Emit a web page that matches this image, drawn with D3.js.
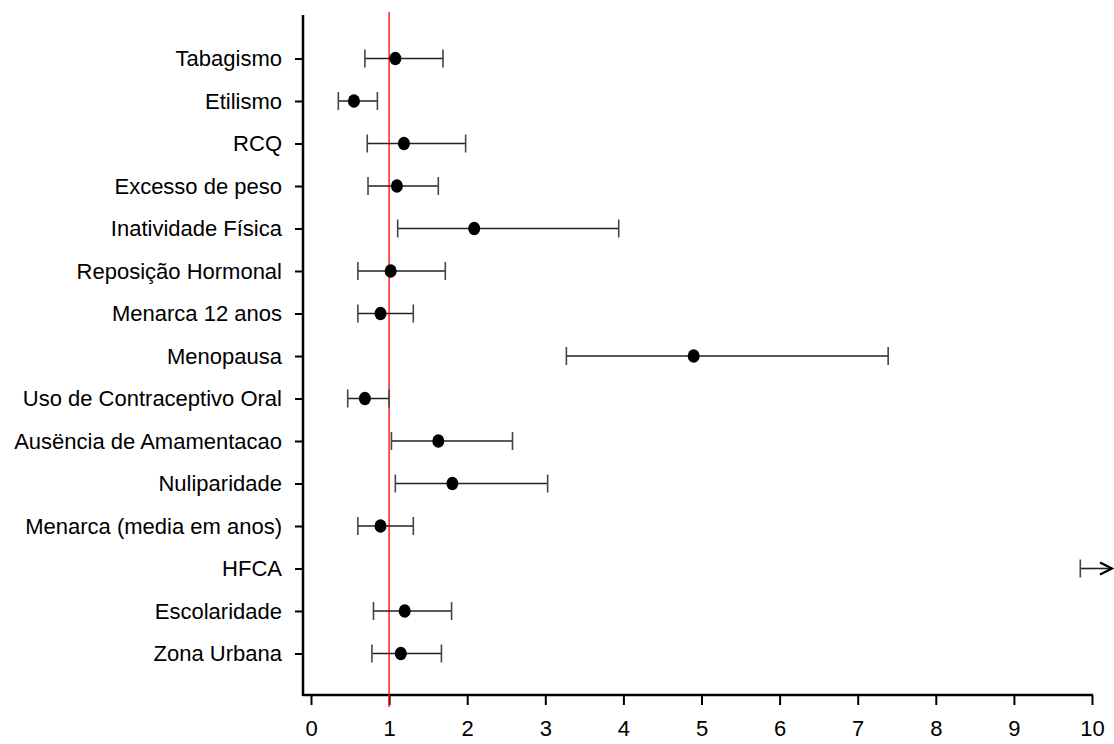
<!DOCTYPE html>
<html>
<head>
<meta charset="utf-8">
<script src="https://cdn.jsdelivr.net/npm/d3@7"></script>
<style>
  body { margin: 0; background: #fff; }
  text { font-family: "Liberation Sans", Arial, sans-serif; }
</style>
</head>
<body>
<div id="visualization"></div>
<script>
const categories = ['Tabagismo', 'Etilismo', 'RCQ', 'Excesso de peso', 'Inatividade Física',
  'Reposição Hormonal', 'Menarca 12 anos', 'Menopausa', 'Uso de Contraceptivo Oral',
  'Ausëncia de Amamentacao', 'Nuliparidade', 'Menarca (media em anos)', 'HFCA',
  'Escolaridade', 'Zona Urbana'];
const oddsRatio = [1.08, 0.55, 1.19, 1.10, 2.09, 1.02, 0.89, 4.90, 0.69, 1.63, 1.81, 0.89, null, 1.20, 1.15];
const lowerCI = [0.69, 0.35, 0.72, 0.73, 1.11, 0.60, 0.60, 3.27, 0.47, 1.03, 1.08, 0.60, 9.85, 0.80, 0.78];
const upperCI = [1.69, 0.85, 1.98, 1.63, 3.94, 1.72, 1.31, 7.39, 1.00, 2.58, 3.03, 1.31, 10.4, 1.80, 1.67];
const xTicks = [0, 1, 2, 3, 4, 5, 6, 7, 8, 9, 10];
const refValue = 1;

const width = 1114;
const height = 744;
const axisX = 303;
const axisTop = 15;
const axisBottom = 695;
const capHalf = 9;

const rows = categories.map((c, i) => ({
  name: c, or: oddsRatio[i], lo: lowerCI[i], hi: upperCI[i],
}));

const svg = d3.select('#visualization')
  .append('svg')
  .attr('width', width)
  .attr('height', height);

const xScale = d3.scaleLinear().domain([0, 10]).range([311, 1092]);
const yScale = d3.scalePoint().domain(categories).range([58.5, 653.5]);

// left axis
const yAxis = svg.append('g')
  .attr('transform', `translate(${axisX},0)`)
  .call(d3.axisLeft(yScale).tickSize(8).tickPadding(13));
yAxis.select('.domain').remove();
yAxis.append('line')
  .attr('x1', 0).attr('x2', 0)
  .attr('y1', axisTop).attr('y2', axisBottom + 1)
  .attr('stroke', '#000').attr('stroke-width', 2.5);
yAxis.selectAll('.tick line').attr('stroke', '#000').attr('stroke-width', 2);
yAxis.selectAll('.tick text')
  .attr('fill', '#000')
  .style('font-size', '22px');

// bottom axis
const xAxis = svg.append('g')
  .attr('transform', `translate(0,${axisBottom})`)
  .call(d3.axisBottom(xScale).tickValues(xTicks).tickSize(10).tickPadding(15));
xAxis.select('.domain').remove();
xAxis.append('line')
  .attr('x1', axisX).attr('x2', 1093)
  .attr('y1', 0).attr('y2', 0)
  .attr('stroke', '#000').attr('stroke-width', 2.5);
xAxis.selectAll('.tick line').attr('stroke', '#000').attr('stroke-width', 2);
xAxis.selectAll('.tick text')
  .attr('fill', '#000')
  .style('font-size', '22px');

// reference line
svg.append('line')
  .attr('x1', xScale(refValue)).attr('x2', xScale(refValue))
  .attr('y1', 12).attr('y2', axisBottom + 12)
  .attr('stroke', '#ff0000').attr('stroke-width', 1.3);

const g = svg.append('g');

// CI lines
g.selectAll('line.ci')
  .data(rows)
  .enter()
  .append('line')
  .attr('class', 'ci')
  .attr('x1', (d) => xScale(d.lo))
  .attr('x2', (d) => (d.or === null ? width - 2 : xScale(d.hi)))
  .attr('y1', (d) => yScale(d.name))
  .attr('y2', (d) => yScale(d.name))
  .attr('stroke', '#222')
  .attr('stroke-width', 1.6);

// lower caps
g.selectAll('line.lo')
  .data(rows)
  .enter()
  .append('line')
  .attr('class', 'lo')
  .attr('x1', (d) => xScale(d.lo))
  .attr('x2', (d) => xScale(d.lo))
  .attr('y1', (d) => yScale(d.name) - capHalf)
  .attr('y2', (d) => yScale(d.name) + capHalf)
  .attr('stroke', '#444')
  .attr('stroke-width', 1.6);

// upper caps (not for the open-ended one)
g.selectAll('line.hi')
  .data(rows.filter((d) => d.or !== null))
  .enter()
  .append('line')
  .attr('class', 'hi')
  .attr('x1', (d) => xScale(d.hi))
  .attr('x2', (d) => xScale(d.hi))
  .attr('y1', (d) => yScale(d.name) - capHalf)
  .attr('y2', (d) => yScale(d.name) + capHalf)
  .attr('stroke', '#444')
  .attr('stroke-width', 1.6);

// arrow head for off-scale interval
g.selectAll('path.arrow')
  .data(rows.filter((d) => d.or === null))
  .enter()
  .append('path')
  .attr('class', 'arrow')
  .attr('d', (d) => {
    const y = yScale(d.name);
    const x = width - 2;
    return `M${x - 12},${y - 6} L${x},${y} L${x - 12},${y + 6}`;
  })
  .attr('fill', 'none')
  .attr('stroke', '#000')
  .attr('stroke-width', 2.2);

// points
g.selectAll('ellipse')
  .data(rows.filter((d) => d.or !== null))
  .enter()
  .append('ellipse')
  .attr('cx', (d) => xScale(d.or))
  .attr('cy', (d) => yScale(d.name))
  .attr('rx', 6)
  .attr('ry', 6.8)
  .attr('fill', '#000');
</script>
</body>
</html>
